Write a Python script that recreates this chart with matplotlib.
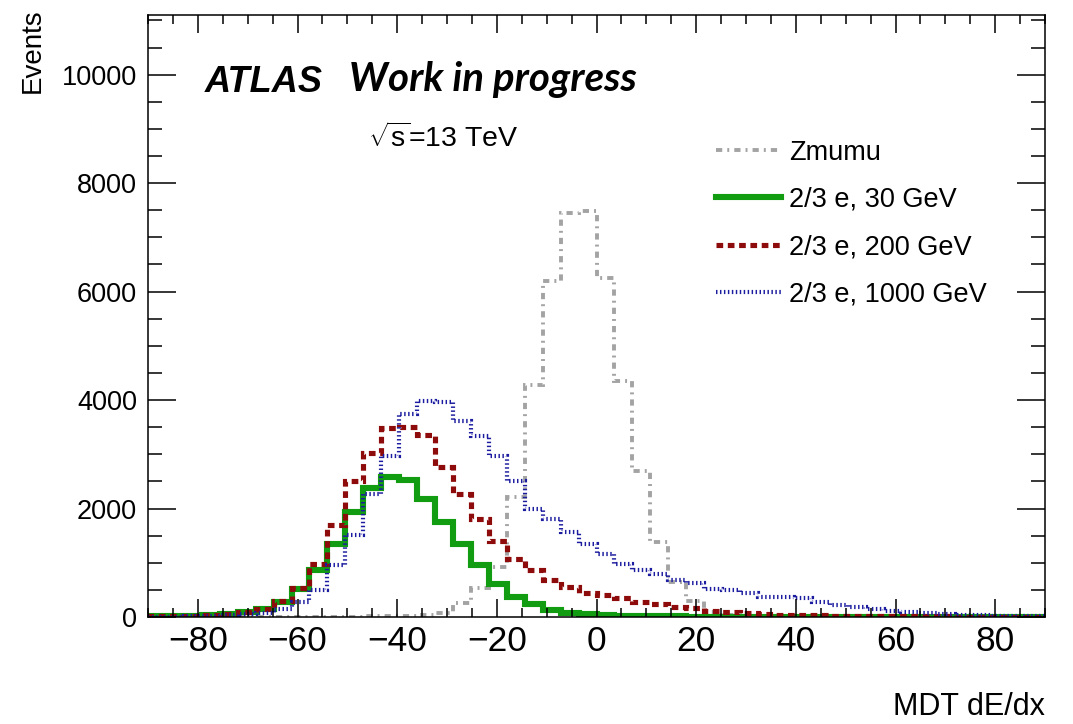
import numpy as np
import matplotlib
matplotlib.use("Agg")
import matplotlib.pyplot as plt
from matplotlib.lines import Line2D
from matplotlib.ticker import MultipleLocator

plt.rcParams['font.family'] = ['Liberation Sans', 'DejaVu Sans']
plt.rcParams['mathtext.fontset'] = 'custom'
plt.rcParams['mathtext.rm'] = 'Liberation Sans'

# 50 bins from -90 to 90
edges = np.linspace(-90, 90, 51)

zmumu = [0, 0, 0, 0, 0, 0, 0, 0, 0, 0,
         0, 5, 10, 15, 20, 30, 75, 255, 530, 920,
         2210, 4280, 6190, 7440, 7480, 6245, 4350, 2700, 1380, 640,
         290, 90, 40, 20, 10, 5, 3, 2, 0, 0,
         0, 0, 0, 0, 0, 0, 0, 0, 0, 0]
e30 = [10, 15, 25, 35, 55, 85, 140, 280, 515, 860,
       1350, 1945, 2380, 2575, 2530, 2180, 1750, 1350, 955, 605,
       370, 240, 130, 80, 50, 30, 20, 15, 12, 10,
       8, 6, 5, 4, 3, 3, 2, 2, 2, 1,
       1, 1, 1, 1, 0, 0, 0, 0, 0, 0]
e200 = [10, 15, 20, 35, 55, 85, 150, 300, 530, 970,
        1705, 2500, 3030, 3490, 3510, 3350, 2760, 2270, 1810, 1410,
        1075, 875, 680, 545, 435, 400, 343, 280, 240, 190,
        160, 115, 92, 68, 55, 45, 38, 30, 25, 20,
        18, 15, 12, 10, 10, 8, 8, 6, 5, 5]
e1000 = [5, 8, 12, 20, 30, 50, 80, 150, 280, 495,
         955, 1505, 2270, 2970, 3740, 3980, 3960, 3615, 3340, 2970,
         2515, 2000, 1810, 1565, 1350, 1170, 985, 860, 800, 680,
         620, 525, 495, 445, 370, 370, 343, 270, 220, 190,
         140, 110, 92, 68, 55, 40, 30, 25, 20, 15]

labels = ['Zmumu', '2/3 e, 30 GeV', '2/3 e, 200 GeV', '2/3 e, 1000 GeV']

W, H = 1073, 724
fig = plt.figure(figsize=(W / 100, H / 100), dpi=100)
ax = fig.add_axes([148 / W, 1 - 617 / H, (1045 - 148) / W, (617 - 15) / H])

styles = [
    dict(color='#a3a3a3', lw=2.8, ls=(0, (1.6, 1.3, 0.5, 1.3))),
    dict(color='#119c11', lw=4.4, ls='-'),
    dict(color='#8e0b0b', lw=3.7, ls=(0, (1.3, 0.9))),
    dict(color='#1c1ca0', lw=3.0, ls=(0, (0.35, 0.6))),
]
for vals, st in zip([zmumu, e30, e200, e1000], styles):
    ax.stairs(vals, edges, color=st['color'], linewidth=st['lw'], linestyle=st['ls'])

ax.set_xlim(-90, 90)
ax.set_ylim(0, 11100)
ax.xaxis.set_major_locator(MultipleLocator(20))
ax.xaxis.set_minor_locator(MultipleLocator(5))
ax.yaxis.set_major_locator(MultipleLocator(2000))
ax.yaxis.set_minor_locator(MultipleLocator(500))
ax.tick_params(axis='both', which='both', direction='in', top=True, right=True, width=1.1)
ax.tick_params(axis='x', which='major', length=13, pad=6)
ax.tick_params(axis='x', which='minor', length=6.5)
ax.tick_params(axis='y', which='major', length=20, pad=8, labelsize=19.5)
ax.tick_params(axis='y', which='minor', length=10)
for sp in ax.spines.values():
    sp.set_linewidth(1.1)

ax.set_xticks(np.arange(-80, 81, 20))
ax.set_xticklabels(['\u2212%d' % abs(v) if v < 0 else '%d' % v for v in range(-80, 81, 20)],
                   fontsize=25.5)

fig.text(1045 / W, 1 - 715 / H, 'MDT dE/dx', ha='right', va='baseline', fontsize=22)
fig.text(33 / W, 1 - 8 / H, 'Events', rotation=90, ha='center', va='top', fontsize=20)

fig.text(205 / W, 1 - 92 / H, 'ATLAS', fontsize=26, fontweight='bold', fontstyle='italic',
         ha='left', va='baseline')
fig.text(349 / W, 1 - 91 / H, 'Work in progress', fontsize=29, fontweight='bold',
         fontstyle='italic', family=['Lato', 'Liberation Sans'], ha='left', va='baseline')
fig.text(368 / W, 1 - 147 / H, r'$\sqrt{\mathrm{s}}$=13 TeV', fontsize=20.5, ha='left', va='baseline')

handles = [Line2D([], [], color=st['color'], lw=st['lw'], ls=st['ls']) for st in styles]
leg = ax.legend(handles, labels, loc='upper left', bbox_to_anchor=(702 / W, 1 - 126 / H),
                bbox_transform=fig.transFigure, frameon=False, fontsize=19.5,
                handlelength=2.4, handletextpad=0.3, labelspacing=0.79, borderpad=0)

fig.savefig('out.png', dpi=100)
